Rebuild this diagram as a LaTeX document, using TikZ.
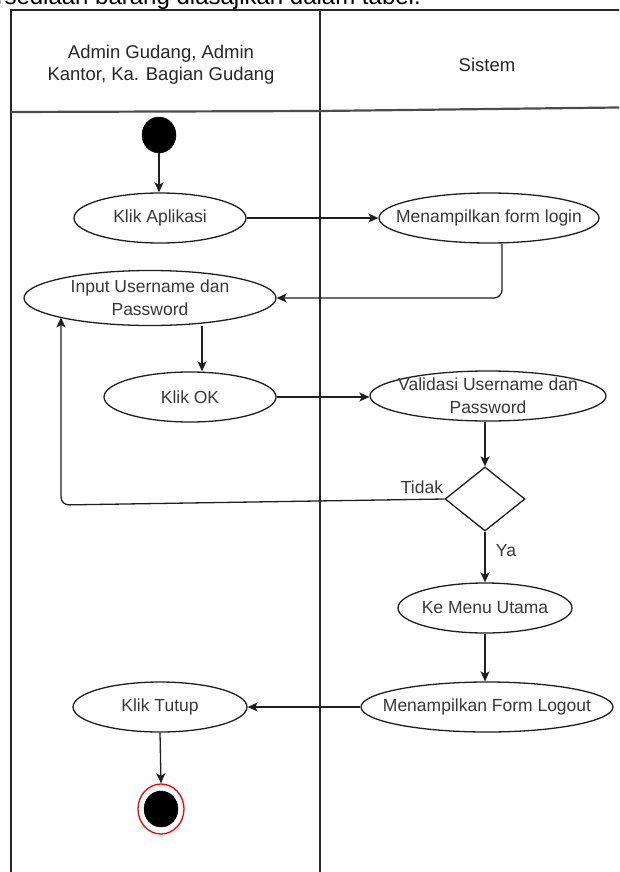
\documentclass[tikz,border=0pt]{standalone}
\usepackage{fontspec}
\setmainfont{Liberation Sans}
\usetikzlibrary{shapes.geometric,arrows.meta,calc}
\begin{document}
\begin{tikzpicture}[x=1pt,y=-1pt,
  frame/.style={draw=black!85, line width=1.3pt},
  hdr/.style={draw=black!70, line width=2.2pt},
  act/.style={ellipse, draw=black!88, line width=1.3pt, fill=white, inner sep=0pt},
  txt/.style={font=\fontsize{17.5}{23}\selectfont, text=black!78, align=center, inner sep=0pt},
  hdrtxt/.style={font=\fontsize{18.5}{22}\selectfont, text=black!85, align=center, inner sep=0pt},
  arr/.style={draw=black!88, line width=1.3pt, -{Stealth[length=10pt,width=9pt,inset=2.5pt]}},
]
\useasboundingbox (0,0) rectangle (619,872);
\clip (0,0) rectangle (619,872);

% cut-off caption line of the page
\node[anchor=base east, font=\fontsize{24}{28}\selectfont, inner sep=0pt] (cap) at (421,4.5) {persediaan barang diasajikan dalam tabel.};

% swimlane frame
\coordinate (tl) at (11,10);
\coordinate (tr) at (660,10);
\coordinate (bl) at (11,880);
\coordinate (mt) at (320,10);
\coordinate (mb) at (320,880);
\coordinate (hl) at (11,112);
\coordinate (hm) at (320,111);
\coordinate (hr) at (660,107);
\draw[frame] (bl) -- (tl) -- (tr);
\draw[frame] (mt) -- (mb);
\draw[hdr] (hl) -- (hm) -- (hr);

\node[hdrtxt] (lane1) at (161,65) {Admin Gudang, Admin\\Kantor, Ka. Bagian Gudang};
\node[hdrtxt] (lane2) at (487,65) {Sistem};

% activities
\node[ellipse, fill=black, draw=black, inner sep=0pt, minimum width=34pt, minimum height=36pt] (start) at (159,135) {};

\node[act, minimum width=172pt, minimum height=50pt] (klik) at (160,218) {};
\node[txt] (klikt) at (klik) {Klik Aplikasi};

\node[act, minimum width=220pt, minimum height=50pt] (form) at (489,218) {};
\node[txt] (formt) at (form) {Menampilkan form login};

\node[act, minimum width=252pt, minimum height=55pt] (inp) at (150,298) {};
\node[txt] (inpt) at (inp) {Input Username dan\\Password};

\node[act, minimum width=172pt, minimum height=50pt] (ok) at (190,397) {};
\node[txt] (okt) at (ok) {Klik OK};

\node[act, minimum width=236pt, minimum height=50pt] (val) at (488,396) {};
\node[txt] (valt) at (val) {Validasi Username dan\\Password};

\node[diamond, draw=black!88, line width=1.3pt, fill=white, inner sep=0pt, minimum width=80pt, minimum height=64pt] (dec) at (485,499) {};

\node[act, minimum width=174pt, minimum height=50pt] (menu) at (485,608) {};
\node[txt] (menut) at (menu) {Ke Menu Utama};

\node[act, minimum width=252pt, minimum height=50pt] (logout) at (487,707) {};
\node[txt] (logoutt) at (logout) {Menampilkan Form Logout};

\node[act, minimum width=174pt, minimum height=50pt] (tutup) at (160,707) {};
\node[txt] (tutupt) at (tutup) {Klik Tutup};

\node[ellipse, draw=red, line width=1.3pt, fill=white, inner sep=0pt, minimum width=46pt, minimum height=50pt] (endo) at (161,809) {};
\node[ellipse, draw=black, fill=black, inner sep=0pt, minimum width=34pt, minimum height=36pt] (endi) at (endo) {};

% connectors
\coordinate (c1) at (502,298);
\coordinate (c2) at (202,0);
\coordinate (c3) at (61,505);

\draw[arr] (start.south) -- (start.south |- klik.north);
\draw[arr] (klik.east) -- (form.west);
\draw[arr, rounded corners=8pt] (form.south -| c1) -- (c1) -- (inp.east);
\draw[arr] (inp.south -| c2) -- (ok.north -| c2);
\draw[arr] (ok.east) -- (ok.east -| val.west);
\draw[arr] (val.south -| dec.north) -- (dec.north);
\draw[arr, rounded corners=8pt] (dec.west) -- (c3) -- (c3 |- inp.192);
\node[txt] (tidak) at (422,487) {Tidak};
\draw[arr] (dec.south) -- (menu.north);
\node[txt] (ya) at (506,551) {Ya};
\draw[arr] (menu.south) -- (menu.south |- logout.north);
\draw[arr] (logout.west) -- (logout.west -| tutup.east);
\draw[arr] (tutup.south) -- (endo.north);
\end{tikzpicture}
\end{document}
